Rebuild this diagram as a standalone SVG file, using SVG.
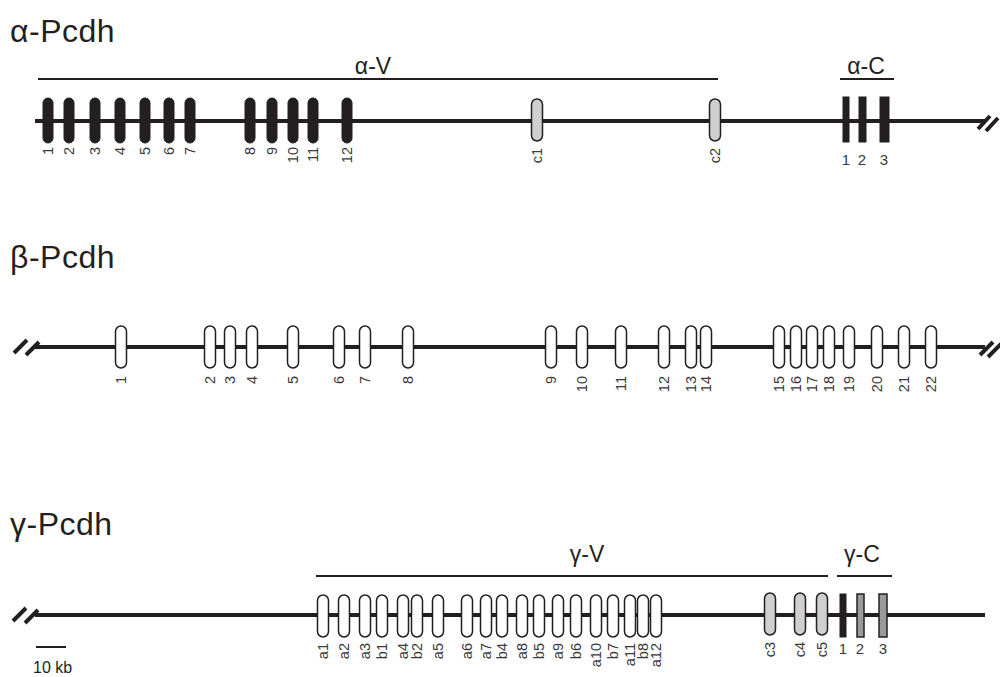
<svg xmlns="http://www.w3.org/2000/svg" width="1000" height="677" viewBox="0 0 1000 677">
<style>
text{font-family:"Liberation Sans",Arial,sans-serif;fill:#231f20}
.title{font-size:32px;letter-spacing:0.5px}
.sub{font-size:23px;text-anchor:middle}
.lab{font-size:14.5px;text-anchor:end;dominant-baseline:central;fill:#3a3a3a}
.hl{font-size:15px;text-anchor:middle;fill:#3a3a3a}
.bb{stroke:#231f20;stroke-width:4;fill:none}
.ov{stroke:#231f20;stroke-width:2;fill:none}
.brk{stroke:#231f20;stroke-width:4;fill:none}
.blk{fill:#231f20;stroke:#231f20;stroke-width:1}
.wht{fill:#fff;stroke:#231f20;stroke-width:1.5}
.gry{fill:#cfcfcf;stroke:#231f20;stroke-width:1.5}
.dgr{fill:#9a9a9a;stroke:#231f20;stroke-width:1.5}
</style>
<defs>
<rect id="eb" x="-5" y="-22" width="10" height="45" rx="5"/>
<rect id="ew" x="-5.5" y="-21" width="11" height="42" rx="5.5"/>
</defs>
<g id="connectors">
<line class="bb" x1="35" y1="121" x2="985" y2="121"/>
<line class="bb" x1="35" y1="347" x2="985" y2="347"/>
<line class="bb" x1="35" y1="615" x2="985" y2="615"/>
<line class="ov" x1="38" y1="79" x2="718" y2="79"/>
<line class="ov" x1="840" y1="79" x2="894" y2="79"/>
<line class="ov" x1="316" y1="576" x2="828" y2="576"/>
<line class="ov" x1="837" y1="576" x2="892" y2="576"/>
<path class="brk" d="M978,129 L990,116 M986,131 L998,118"/>
<path class="brk" d="M14,353 L27,340 M26,355 L39,342"/>
<path class="brk" d="M980,355 L993,342 M988,357 L1001,344"/>
<path class="brk" d="M13,621 L26,608 M25,623 L38,610"/>
<line class="ov" x1="36" y1="647" x2="66" y2="647"/>
</g>
<g id="titles">
<text class="title" x="10" y="42">α-Pcdh</text>
<text class="title" x="10" y="268">β-Pcdh</text>
<text class="title" x="10" y="535">γ-Pcdh</text>
<text class="sub" x="373" y="74">α-V</text>
<text class="sub" x="866" y="74">α-C</text>
<text class="sub" x="587" y="562">γ-V</text>
<text class="sub" x="862" y="562">γ-C</text>
<text x="33" y="673" style="font-size:16px">10 kb</text>
</g>
<g id="alpha">
<g id="a-1"><use href="#eb" class="blk" x="48" y="120"/><text class="lab" transform="translate(48,147) rotate(-90)">1</text></g>
<g id="a-2"><use href="#eb" class="blk" x="69" y="120"/><text class="lab" transform="translate(69,147) rotate(-90)">2</text></g>
<g id="a-3"><use href="#eb" class="blk" x="95" y="120"/><text class="lab" transform="translate(95,147) rotate(-90)">3</text></g>
<g id="a-4"><use href="#eb" class="blk" x="120" y="120"/><text class="lab" transform="translate(120,147) rotate(-90)">4</text></g>
<g id="a-5"><use href="#eb" class="blk" x="145" y="120"/><text class="lab" transform="translate(145,147) rotate(-90)">5</text></g>
<g id="a-6"><use href="#eb" class="blk" x="169" y="120"/><text class="lab" transform="translate(169,147) rotate(-90)">6</text></g>
<g id="a-7"><use href="#eb" class="blk" x="190" y="120"/><text class="lab" transform="translate(190,147) rotate(-90)">7</text></g>
<g id="a-8"><use href="#eb" class="blk" x="250" y="120"/><text class="lab" transform="translate(250,147) rotate(-90)">8</text></g>
<g id="a-9"><use href="#eb" class="blk" x="272" y="120"/><text class="lab" transform="translate(272,147) rotate(-90)">9</text></g>
<g id="a-10"><use href="#eb" class="blk" x="293" y="120"/><text class="lab" transform="translate(293,147) rotate(-90)">10</text></g>
<g id="a-11"><use href="#eb" class="blk" x="313" y="120"/><text class="lab" transform="translate(313,147) rotate(-90)">11</text></g>
<g id="a-12"><use href="#eb" class="blk" x="347" y="120"/><text class="lab" transform="translate(347,147) rotate(-90)">12</text></g>
<g id="a-c1"><use href="#ew" class="gry" x="537" y="120"/><text class="lab" transform="translate(537,148) rotate(-90)">c1</text></g>
<g id="a-c2"><use href="#ew" class="gry" x="715" y="120"/><text class="lab" transform="translate(715,148) rotate(-90)">c2</text></g>
<g id="aC-1"><rect class="blk" x="843" y="97" width="6" height="45"/><text class="hl" x="846" y="165">1</text></g>
<g id="aC-2"><rect class="blk" x="859" y="97" width="7" height="45"/><text class="hl" x="862" y="165">2</text></g>
<g id="aC-3"><rect class="blk" x="880" y="97" width="9" height="45"/><text class="hl" x="884" y="165">3</text></g>
</g>
<g id="beta">
<g id="b-1"><use href="#ew" class="wht" x="121" y="347"/><text class="lab" transform="translate(121,376) rotate(-90)">1</text></g>
<g id="b-2"><use href="#ew" class="wht" x="210" y="347"/><text class="lab" transform="translate(210,376) rotate(-90)">2</text></g>
<g id="b-3"><use href="#ew" class="wht" x="230" y="347"/><text class="lab" transform="translate(230,376) rotate(-90)">3</text></g>
<g id="b-4"><use href="#ew" class="wht" x="252" y="347"/><text class="lab" transform="translate(252,376) rotate(-90)">4</text></g>
<g id="b-5"><use href="#ew" class="wht" x="293" y="347"/><text class="lab" transform="translate(293,376) rotate(-90)">5</text></g>
<g id="b-6"><use href="#ew" class="wht" x="339" y="347"/><text class="lab" transform="translate(339,376) rotate(-90)">6</text></g>
<g id="b-7"><use href="#ew" class="wht" x="365" y="347"/><text class="lab" transform="translate(365,376) rotate(-90)">7</text></g>
<g id="b-8"><use href="#ew" class="wht" x="408" y="347"/><text class="lab" transform="translate(408,376) rotate(-90)">8</text></g>
<g id="b-9"><use href="#ew" class="wht" x="551" y="347"/><text class="lab" transform="translate(551,376) rotate(-90)">9</text></g>
<g id="b-10"><use href="#ew" class="wht" x="582" y="347"/><text class="lab" transform="translate(582,376) rotate(-90)">10</text></g>
<g id="b-11"><use href="#ew" class="wht" x="621" y="347"/><text class="lab" transform="translate(621,376) rotate(-90)">11</text></g>
<g id="b-12"><use href="#ew" class="wht" x="664" y="347"/><text class="lab" transform="translate(664,376) rotate(-90)">12</text></g>
<g id="b-13"><use href="#ew" class="wht" x="691" y="347"/><text class="lab" transform="translate(691,376) rotate(-90)">13</text></g>
<g id="b-14"><use href="#ew" class="wht" x="706" y="347"/><text class="lab" transform="translate(706,376) rotate(-90)">14</text></g>
<g id="b-15"><use href="#ew" class="wht" x="779" y="347"/><text class="lab" transform="translate(779,376) rotate(-90)">15</text></g>
<g id="b-16"><use href="#ew" class="wht" x="796" y="347"/><text class="lab" transform="translate(796,376) rotate(-90)">16</text></g>
<g id="b-17"><use href="#ew" class="wht" x="812" y="347"/><text class="lab" transform="translate(812,376) rotate(-90)">17</text></g>
<g id="b-18"><use href="#ew" class="wht" x="829" y="347"/><text class="lab" transform="translate(829,376) rotate(-90)">18</text></g>
<g id="b-19"><use href="#ew" class="wht" x="849" y="347"/><text class="lab" transform="translate(849,376) rotate(-90)">19</text></g>
<g id="b-20"><use href="#ew" class="wht" x="877" y="347"/><text class="lab" transform="translate(877,376) rotate(-90)">20</text></g>
<g id="b-21"><use href="#ew" class="wht" x="904" y="347"/><text class="lab" transform="translate(904,376) rotate(-90)">21</text></g>
<g id="b-22"><use href="#ew" class="wht" x="931" y="347"/><text class="lab" transform="translate(931,376) rotate(-90)">22</text></g>
</g>
<g id="gamma">
<g id="g-a1"><use href="#ew" class="wht" x="323" y="616"/><text class="lab" transform="translate(323,643) rotate(-90)">a1</text></g>
<g id="g-a2"><use href="#ew" class="wht" x="344" y="616"/><text class="lab" transform="translate(344,643) rotate(-90)">a2</text></g>
<g id="g-a3"><use href="#ew" class="wht" x="365" y="616"/><text class="lab" transform="translate(365,643) rotate(-90)">a3</text></g>
<g id="g-b1"><use href="#ew" class="wht" x="382" y="616"/><text class="lab" transform="translate(382,643) rotate(-90)">b1</text></g>
<g id="g-a4"><use href="#ew" class="wht" x="403" y="616"/><text class="lab" transform="translate(403,643) rotate(-90)">a4</text></g>
<g id="g-b2"><use href="#ew" class="wht" x="417" y="616"/><text class="lab" transform="translate(417,643) rotate(-90)">b2</text></g>
<g id="g-a5"><use href="#ew" class="wht" x="438" y="616"/><text class="lab" transform="translate(438,643) rotate(-90)">a5</text></g>
<g id="g-a6"><use href="#ew" class="wht" x="467" y="616"/><text class="lab" transform="translate(467,643) rotate(-90)">a6</text></g>
<g id="g-a7"><use href="#ew" class="wht" x="486" y="616"/><text class="lab" transform="translate(486,643) rotate(-90)">a7</text></g>
<g id="g-b4"><use href="#ew" class="wht" x="502" y="616"/><text class="lab" transform="translate(502,643) rotate(-90)">b4</text></g>
<g id="g-a8"><use href="#ew" class="wht" x="522" y="616"/><text class="lab" transform="translate(522,643) rotate(-90)">a8</text></g>
<g id="g-b5"><use href="#ew" class="wht" x="539" y="616"/><text class="lab" transform="translate(539,643) rotate(-90)">b5</text></g>
<g id="g-a9"><use href="#ew" class="wht" x="558" y="616"/><text class="lab" transform="translate(558,643) rotate(-90)">a9</text></g>
<g id="g-b6"><use href="#ew" class="wht" x="576" y="616"/><text class="lab" transform="translate(576,643) rotate(-90)">b6</text></g>
<g id="g-a10"><use href="#ew" class="wht" x="596" y="616"/><text class="lab" transform="translate(596,643) rotate(-90)">a10</text></g>
<g id="g-b7"><use href="#ew" class="wht" x="613" y="616"/><text class="lab" transform="translate(613,643) rotate(-90)">b7</text></g>
<g id="g-a11"><use href="#ew" class="wht" x="630" y="616"/><text class="lab" transform="translate(630,643) rotate(-90)">a11</text></g>
<g id="g-b8"><use href="#ew" class="wht" x="643" y="616"/><text class="lab" transform="translate(643,643) rotate(-90)">b8</text></g>
<g id="g-a12"><use href="#ew" class="wht" x="656" y="616"/><text class="lab" transform="translate(656,643) rotate(-90)">a12</text></g>
<g id="g-c3"><use href="#ew" class="gry" x="770" y="614"/><text class="lab" transform="translate(770,642) rotate(-90)">c3</text></g>
<g id="g-c4"><use href="#ew" class="gry" x="800" y="614"/><text class="lab" transform="translate(800,642) rotate(-90)">c4</text></g>
<g id="g-c5"><use href="#ew" class="gry" x="822" y="614"/><text class="lab" transform="translate(822,642) rotate(-90)">c5</text></g>
<g id="gC-1"><rect class="blk" x="840" y="594" width="6" height="43"/><text class="hl" x="843" y="654">1</text></g>
<g id="gC-2"><rect class="dgr" x="857" y="594" width="7" height="43"/><text class="hl" x="860" y="654">2</text></g>
<g id="gC-3"><rect class="dgr" x="879" y="594" width="8" height="43"/><text class="hl" x="883" y="654">3</text></g>
</g>
</svg>
